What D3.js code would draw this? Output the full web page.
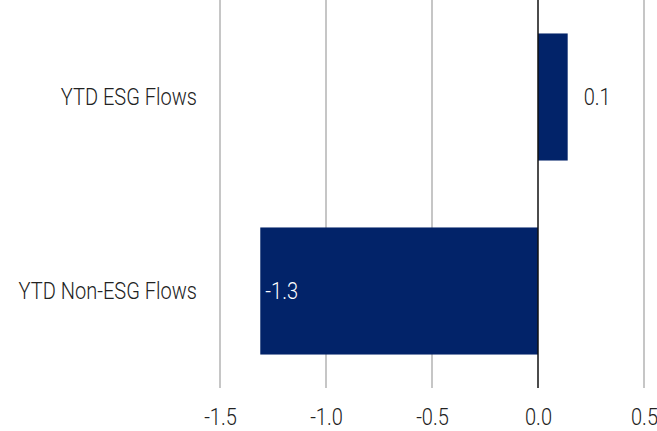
<!DOCTYPE html>
<html>
<head>
<meta charset="utf-8">
<script src="https://cdn.jsdelivr.net/npm/d3@7"></script>
<style>
  body { margin: 0; background: #fff; }
  svg text { font-family: Roboto, "Open Sans", sans-serif; font-weight: 300; fill: #222; }
</style>
</head>
<body>
<svg id="chart" width="657" height="431"></svg>
<script>
// Year-to-date fund flows
const categories = ["YTD ESG Flows", "YTD Non-ESG Flows"];
const flows = [0.14, -1.31];
const tickValues = [-1.5, -1.0, -0.5, 0.0, 0.5];

const svg = d3.select("#chart");
const plotTop = 0, plotBottom = 388;
const fontSize = 24;
const squeeze = "scale(0.835,1)"; // narrow the type to a condensed look

// plain hyphen for negative numbers
const locale = d3.formatLocale({ decimal: ".", thousands: ",", grouping: [3], currency: ["", ""], minus: "-" });
const fmt = locale.format(".1f");

const x = d3.scaleLinear().domain([-1.5, 0.5]).range([220, 644]);
const y = d3.scaleBand().domain(categories).range([plotTop, plotBottom])
  .paddingInner(0.345).paddingOuter(0.1725);

// vertical gridlines
svg.append("g").selectAll("line").data(tickValues.filter(v => v !== 0)).join("line")
  .attr("x1", d => x(d)).attr("x2", d => x(d))
  .attr("y1", plotTop).attr("y2", plotBottom)
  .attr("stroke", "#c6c6c6").attr("stroke-width", 2);

// bars
const data = categories.map((c, i) => ({ cat: c, v: flows[i] }));
svg.append("g").selectAll("rect").data(data).join("rect")
  .attr("x", d => x(Math.min(0, d.v)))
  .attr("width", d => Math.abs(x(d.v) - x(0)))
  .attr("y", d => y(d.cat))
  .attr("height", y.bandwidth())
  .attr("fill", "#022369");

// zero line
svg.append("line")
  .attr("x1", x(0)).attr("x2", x(0))
  .attr("y1", plotTop).attr("y2", plotBottom)
  .attr("stroke", "#111").attr("stroke-width", 1.5);

// x-axis tick labels
const xAxis = d3.axisBottom(x).tickValues(tickValues).tickFormat(fmt).tickSize(0).tickPadding(0);
const gx = svg.append("g").attr("transform", "translate(0,425)").call(xAxis);
gx.select(".domain").remove();
gx.selectAll("text").attr("font-size", fontSize).attr("font-family", null).attr("fill", "#222")
  .attr("y", 0).attr("dy", 0).attr("transform", squeeze);

// category labels
const yAxis = d3.axisLeft(y).tickSize(0).tickPadding(0);
const gy = svg.append("g").attr("transform", "translate(197,0)").call(yAxis);
gy.select(".domain").remove();
gy.selectAll("text").attr("font-size", fontSize).attr("font-family", null).attr("fill", "#222")
  .attr("transform", squeeze);

// value labels
svg.append("g").selectAll("g").data(data).join("g")
  .attr("transform", d => `translate(${d.v >= 0 ? x(d.v) + 16 : x(d.v) + 5},${y(d.cat) + y.bandwidth() / 2})`)
  .append("text")
  .attr("dy", "0.35em")
  .attr("font-size", fontSize)
  .attr("transform", squeeze)
  .style("fill", d => d.v >= 0 ? "#222" : "#fff")
  .text(d => fmt(d.v));
</script>
</body>
</html>
